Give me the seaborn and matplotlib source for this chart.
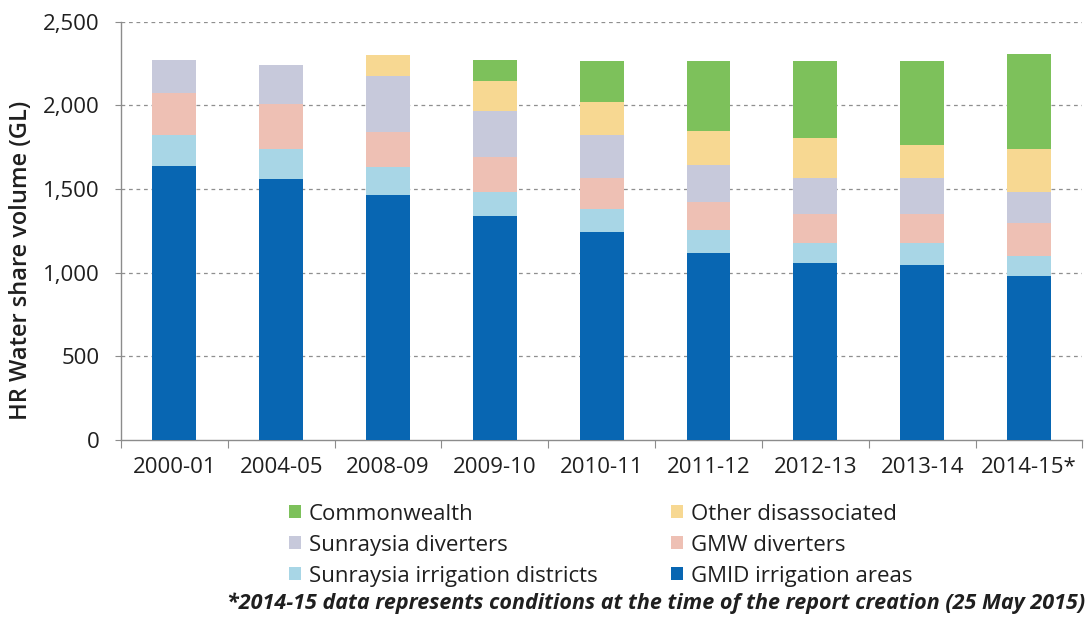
import numpy as np
import pandas as pd
import matplotlib
matplotlib.use("Agg")
import matplotlib.pyplot as plt
from matplotlib.patches import Patch
from matplotlib.ticker import FuncFormatter, MultipleLocator
import seaborn as sns

years = ["2000-01", "2004-05", "2008-09", "2009-10", "2010-11",
         "2011-12", "2012-13", "2013-14", "2014-15*"]

gmid_irrigation = [1640, 1563, 1464, 1339, 1242, 1115, 1056, 1044, 980]
sunraysia_irrigation = [181, 179, 169, 145, 141, 139, 123, 131, 119]
gmw_diverters = [254, 264, 208, 208, 184, 166, 172, 173, 199]
sunraysia_diverters = [199, 238, 333, 274, 254, 223, 216, 219, 186]
other_disassociated = [0, 0, 130, 179, 199, 204, 238, 199, 258]
commonwealth = [0, 0, 0, 129, 244, 421, 463, 502, 565]

series_names = ["GMID irrigation areas", "Sunraysia irrigation districts",
                "GMW diverters", "Sunraysia diverters",
                "Other disassociated", "Commonwealth"]
series_values = [gmid_irrigation, sunraysia_irrigation, gmw_diverters,
                 sunraysia_diverters, other_disassociated, commonwealth]
series_colors = ["#0866B2", "#A8D6E6", "#EEC0B4", "#C7C9DB", "#F7D892", "#7DC15B"]

sns.set_theme(style="white")
plt.rcParams['font.family'] = ['Open Sans', 'DejaVu Sans']
text_color = "#1f1f1f"

fig = plt.figure(figsize=(10.89, 6.24), dpi=100)
ax = fig.add_axes([0.111, 0.295, 0.883, 0.67])

# cumulative totals, drawn from top layer down so lower layers overlay
cum = np.cumsum(np.array(series_values), axis=0)
for i in range(len(series_names) - 1, -1, -1):
    df = pd.DataFrame({"year": years, "value": cum[i]})
    sns.barplot(data=df, x="year", y="value", color=series_colors[i],
                saturation=1, width=0.41, ax=ax, linewidth=0, zorder=3)

ax.set_ylim(0, 2500)
ax.set_xlim(-0.5, len(years) - 0.5)
ax.yaxis.set_major_locator(MultipleLocator(500))
ax.yaxis.set_major_formatter(FuncFormatter(lambda v, p: f"{int(v):,}"))

for y in range(500, 2501, 500):
    ax.axhline(y, color="#8f8f8f", linestyle=(0, (3, 3)), linewidth=0.9, zorder=1)

for s in ["top", "right"]:
    ax.spines[s].set_visible(False)
for s in ["left", "bottom"]:
    ax.spines[s].set_color("#8c8c8c")
    ax.spines[s].set_linewidth(1.0)

ax.tick_params(axis="y", which="major", length=4.5, width=0.8, color="#8c8c8c",
               direction="out", labelsize=16, labelcolor=text_color, pad=11, left=True)
ax.tick_params(axis="x", which="major", length=0, labelsize=16,
               labelcolor=text_color, pad=12)
ax.set_xticks(np.arange(-0.5, len(years) + 0.5, 1), minor=True)
ax.tick_params(axis="x", which="minor", length=6, width=0.8, color="#8c8c8c",
               direction="out", bottom=True)

ax.set_xlabel("")
ax.set_ylabel("HR Water share volume (GL)", fontsize=17, color=text_color,
              fontweight="semibold")
ax.yaxis.set_label_coords(-0.091, 0.43)

legend_order = ["Commonwealth", "Sunraysia diverters", "Sunraysia irrigation districts",
                "Other disassociated", "GMW diverters", "GMID irrigation areas"]
handles = [Patch(facecolor=series_colors[series_names.index(n)], edgecolor="none", label=n)
           for n in legend_order]
leg = fig.legend(handles=handles, ncol=2, loc="upper left",
                 bbox_to_anchor=(0.265, 0.193), frameon=False, fontsize=16,
                 handlelength=0.55, handleheight=0.55, handletextpad=0.36,
                 columnspacing=3.3, labelspacing=0.45, borderaxespad=0, borderpad=0)
for t in leg.get_texts():
    t.set_color(text_color)

fig.text(0.996, 0.034,
         "*2014-15 data represents conditions at the time of the report creation (25 May 2015)",
         ha="right", va="center", fontsize=15.5, style="italic", fontweight="bold",
         color=text_color)

fig.savefig("out.png", dpi=100)
